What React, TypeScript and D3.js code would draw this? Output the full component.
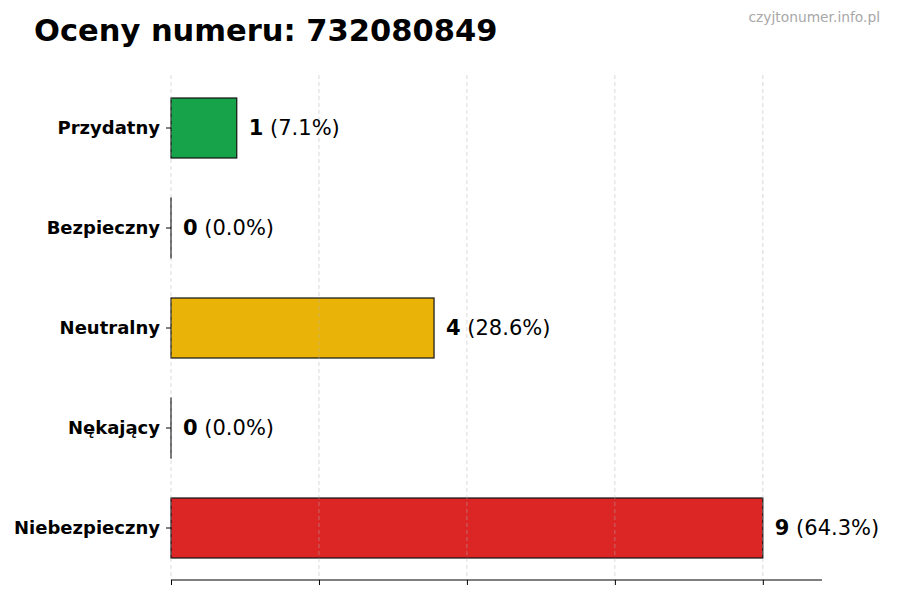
import { useEffect, useRef } from "react";
import * as d3 from "d3";

const title = "Oceny numeru: 732080849";
const watermark = "czyjtonumer.info.pl";

const categories = ["Przydatny", "Bezpieczny", "Neutralny", "Nękający", "Niebezpieczny"];
const counts = [1, 0, 4, 0, 9];
const colors = ["#16a34a", "#9ca3af", "#eab308", "#f97316", "#dc2626"];

const W = 900;
const H = 600;
const margin = { top: 78, right: 78, bottom: 22, left: 171 };

export default function App() {
  const ref = useRef<SVGSVGElement>(null);

  useEffect(() => {
    const svg = d3.select(ref.current);
    svg.selectAll("*").remove();

    const total = d3.sum(counts);
    const maxVal = d3.max(counts) || 1;

    const x = d3
      .scaleLinear()
      .domain([0, maxVal * 1.1])
      .range([margin.left, W - margin.right]);

    const y = d3
      .scaleBand()
      .domain(categories)
      .range([margin.top, H - margin.bottom])
      .paddingInner(0.4)
      .paddingOuter(0.2);

    const ticks = d3.range(5).map((i) => (maxVal * i) / 4);
    const axisY = H - margin.bottom + 2;

    svg.append("rect").attr("width", W).attr("height", H).attr("fill", "white");

    // bars
    svg
      .append("g")
      .selectAll("rect")
      .data(counts)
      .join("rect")
      .attr("x", x(0))
      .attr("y", (_, i) => y(categories[i])!)
      .attr("width", (d) => Math.max(x(d) - x(0), 0.01))
      .attr("height", y.bandwidth())
      .attr("fill", (_, i) => colors[i])
      .attr("stroke", "#111")
      .attr("stroke-width", 1.2);

    // grid on top, faint
    svg
      .append("g")
      .selectAll("line")
      .data(ticks)
      .join("line")
      .attr("x1", (d) => x(d))
      .attr("x2", (d) => x(d))
      .attr("y1", margin.top - 3)
      .attr("y2", axisY)
      .attr("stroke", "#b0b0b0")
      .attr("stroke-opacity", 0.6)
      .attr("stroke-dasharray", "4,3")
      .attr("stroke-width", 0.8);

    // x axis, no labels
    const xAxis = svg
      .append("g")
      .attr("transform", `translate(0,${axisY})`)
      .call(d3.axisBottom(x).tickValues(ticks).tickSize(5).tickFormat(() => ""));
    xAxis.select(".domain").attr("d", `M${x(0)},0H${W - margin.right}`).attr("stroke", "#000");

    // y axis labels
    const yAxis = svg
      .append("g")
      .attr("transform", `translate(${x(0)},0)`)
      .call(d3.axisLeft(y).tickSize(5).tickPadding(6));
    yAxis.select(".domain").remove();
    yAxis
      .selectAll("text")
      .attr("font-family", "DejaVu Sans")
      .attr("font-weight", "bold")
      .attr("font-size", 18)
      .attr("fill", "#000");

    // value labels
    const labels = svg
      .append("g")
      .selectAll("text")
      .data(counts)
      .join("text")
      .attr("x", (d) => x(d) + 12)
      .attr("y", (_, i) => y(categories[i])! + y.bandwidth() / 2)
      .attr("dy", "0.35em")
      .attr("font-family", "DejaVu Sans")
      .attr("font-size", 21)
      .attr("fill", "#000");
    labels.append("tspan").attr("font-weight", "bold").text((d) => `${d}`);
    labels.append("tspan").text((d) => ` (${((d / total) * 100).toFixed(1)}%)`);

    svg
      .append("text")
      .attr("x", 34)
      .attr("y", 41)
      .attr("font-family", "DejaVu Sans")
      .attr("font-weight", "bold")
      .attr("font-size", 30.5)
      .attr("fill", "#000")
      .text(title);

    svg
      .append("text")
      .attr("x", 880)
      .attr("y", 22)
      .attr("text-anchor", "end")
      .attr("font-family", "DejaVu Sans")
      .attr("font-size", 13.8)
      .attr("fill", "#a8a8a8")
      .text(watermark);
  }, []);

  return (
    <svg
      ref={ref}
      width={W}
      height={H}
      style={{ position: "absolute", left: 0, top: 0, display: "block" }}
    />
  );
}
